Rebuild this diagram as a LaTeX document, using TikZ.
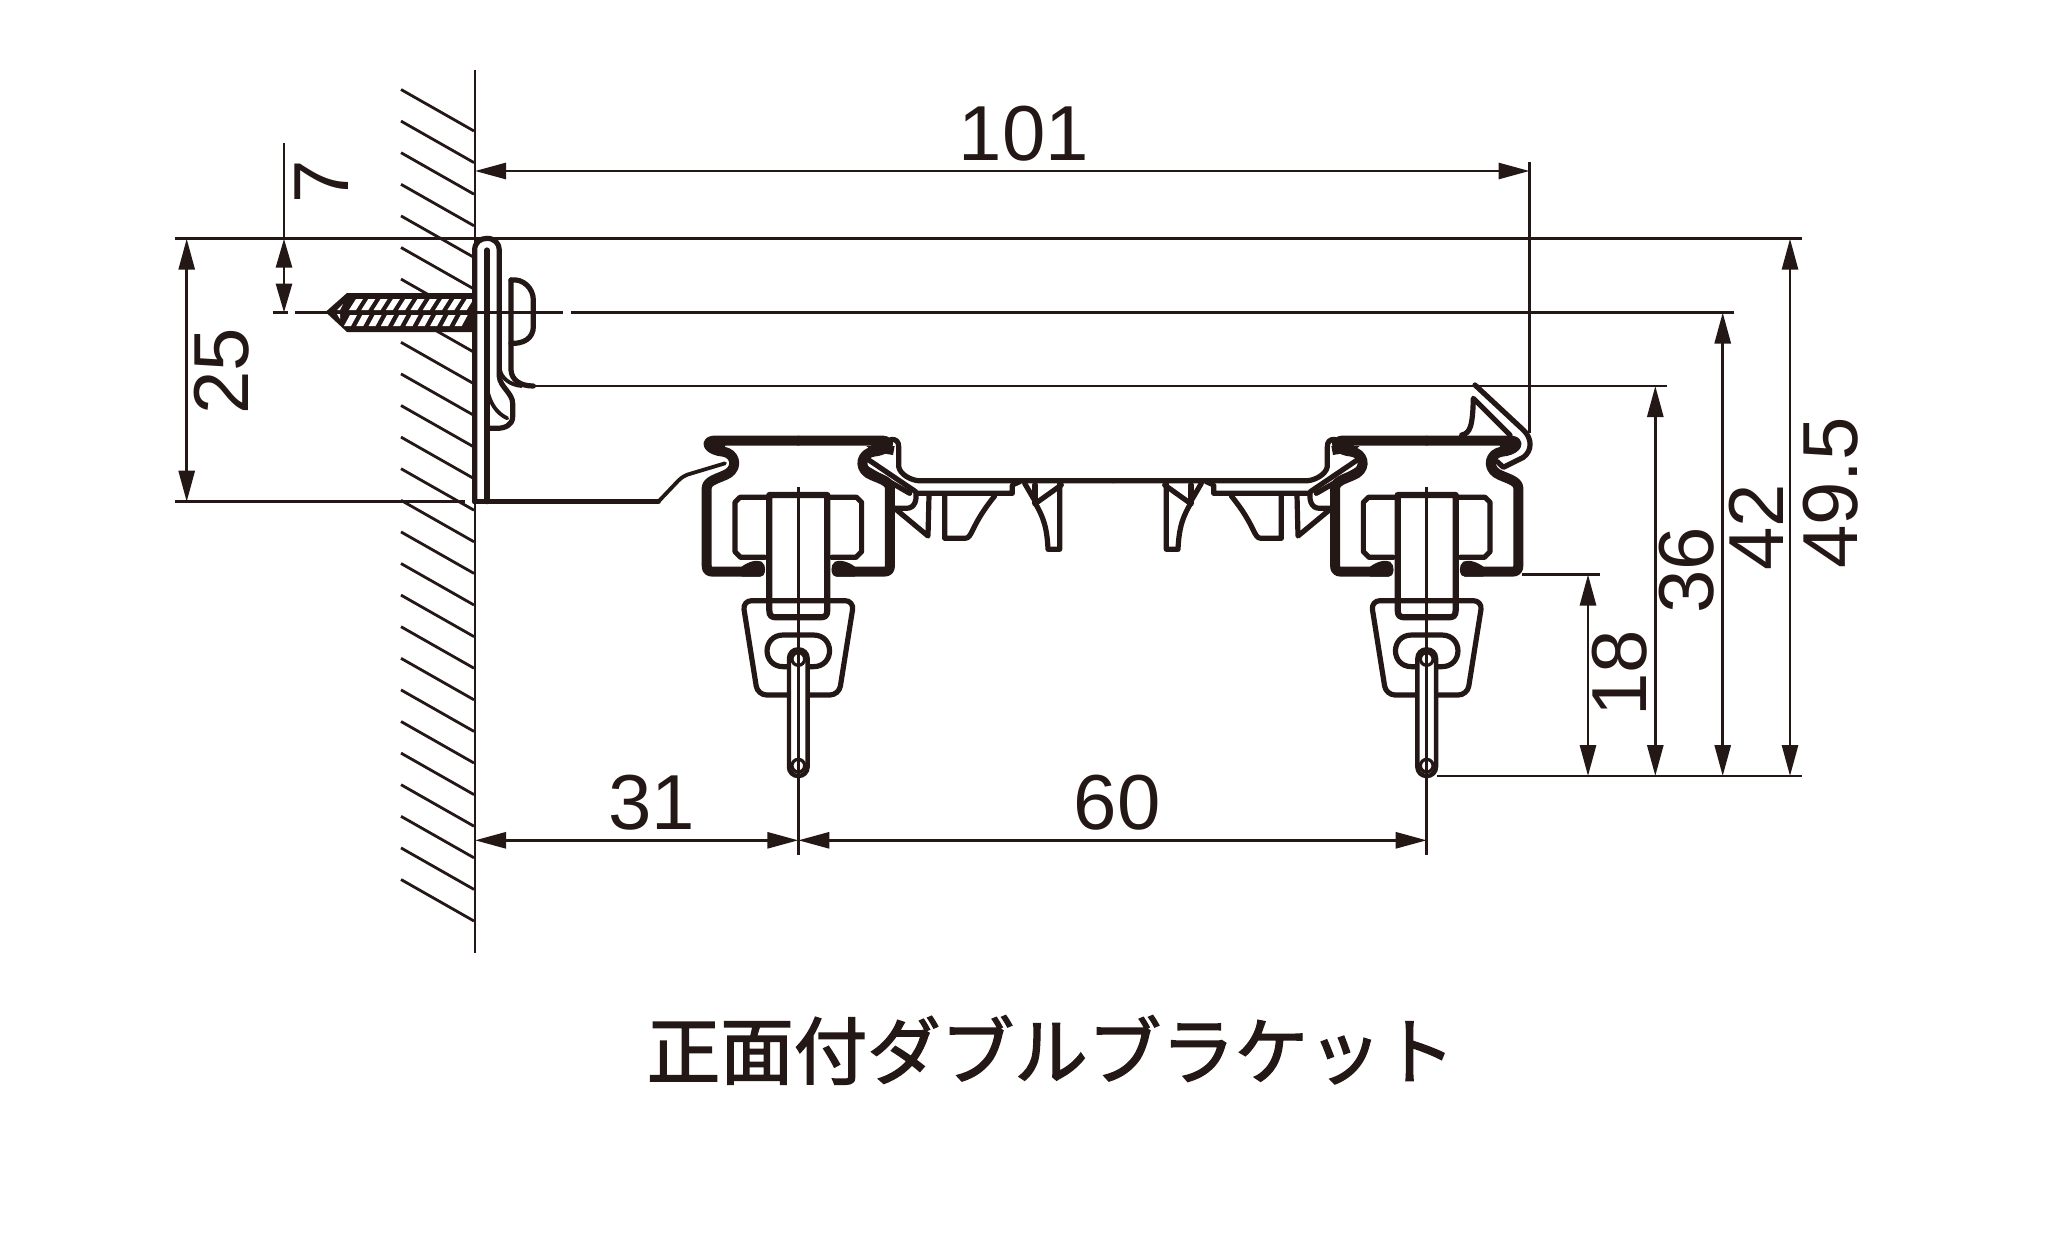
\documentclass[tikz,border=0pt]{standalone}
\usepackage{fontspec}
\setmainfont{Liberation Sans}
\newfontfamily\cjkfont[FakeBold=2]{Noto Sans CJK JP}
\usetikzlibrary{arrows.meta}
\definecolor{ink}{HTML}{231815}
\tikzset{
  thinline/.style={line width=2.8pt,draw=ink},
  dimline/.style={line width=2.8pt,draw=ink,{Triangle[length=31pt,width=16pt,fill=ink]}-{Triangle[length=31pt,width=16pt,fill=ink]}},
  endtip/.style={line width=2.8pt,draw=ink,-{Triangle[length=29pt,width=16pt,fill=ink]}},
  dimtext/.style={inner sep=0pt,text=ink,font=\fontsize{78}{78}\selectfont},
  railthick/.style={line width=10pt,draw=ink,line cap=round,line join=round},
  stemline/.style={line width=6.2pt,draw=ink,line cap=round,line join=round},
  partline/.style={line width=5.2pt,draw=ink,line cap=round,line join=round},
  fineline/.style={line width=3.8pt,draw=ink,line cap=round,line join=round},
}
\newcommand\trackhalf{%
  \draw[railthick] (0,62) -- (-255,62) .. controls (-285,66) and (-265,92) .. (-225,95)
     .. controls (-190,100) and (-180,140) .. (-210,160)
     .. controls (-235,175) and (-275,180) .. (-275,205)
     -- (-275,435) .. controls (-275,450) and (-270,455) .. (-255,455) -- (-115,455);
  \fill[ink] (-265,50) -- (-215,60) -- (-222,90) -- (-255,92) -- (-278,70) -- cycle;
  \fill[ink] (-170,440) .. controls (-150,425) and (-125,418) .. (-110,425)
     .. controls (-95,435) and (-95,465) .. (-115,470) -- (-170,470) -- cycle;
  \draw[partline] (-87,232) -- (-175,232) -- (-190,247) -- (-190,395) -- (-173,412) -- (-100,412);
  \draw[stemline] (0,225) -- (-87,225) -- (-87,570) .. controls (-87,588) and (-80,592) .. (-65,592) -- (0,592);
  \draw[partline,rounded corners=9pt] (0,542) -- (-167,542) -- (-122,825) -- (0,825);
  \draw[partline] (0,645) -- (-45,645) .. controls (-110,645) and (-110,740) .. (-45,740) -- (0,740);
}
\newcommand\hangerpin{%
  \filldraw[fill=white,draw=ink,line width=4.4pt,rounded corners=9pt] (-28,688) rectangle (28,1068);
  \draw[line width=3.2pt,draw=ink] (0,717) circle (19);
  \draw[line width=3.2pt,draw=ink] (0,1037) circle (19);
}
\newcommand\centrehalf{%
  \draw[partline] (0,152) -- (-585,152) .. controls (-605,150) and (-638,135) .. (-643,110)
     -- (-643,50) .. controls (-643,35) and (-650,28) .. (-665,28);
  \fill[ink] (-740,48) -- (-655,48) -- (-660,75) -- (-720,65) -- cycle;
  \draw[partline] (-590,190) -- (-302,190) -- (-302,165) -- (-280,155);
  \draw[partline] (-740,85) -- (-592,185) .. controls (-588,205) and (-592,235) .. (-620,235) -- (-655,235);
  \draw[partline] (-740,115) -- (-610,190);
  \draw[partline] (-655,235) -- (-555,318) -- (-552,195);
  \draw[partline] (-505,195) -- (-505,325) -- (-445,325) .. controls (-420,325) and (-430,290) .. (-355,198);
  \draw[partline] (-265,160) -- (-233,215);
  \draw[stemline] (-233,165) -- (-233,220);
  \draw[partline] (-225,215) -- (-155,165);
  \draw[partline] (-160,160) -- (-160,358) -- (-195,358) .. controls (-198,290) and (-210,260) .. (-233,220);
}
\begin{document}
\begin{tikzpicture}[x=1pt,y=-1pt]
\useasboundingbox (0,0) rectangle (2048,1243);
\fill[white] (0,0) rectangle (2048,1243);

% wall hatch
\foreach \k in {0,...,25}{
  \pgfmathsetmacro\ye{131+31.6*\k}
  \pgfmathsetmacro\ys{\ye-41.5}
  \draw[thinline] (401,\ys) -- (474,\ye);
}

% screw
\fill[ink] (325.5,312) -- (347,293) -- (474,293) -- (474,332) -- (347,332) -- cycle;
\foreach \i in {0,...,9}{
  \pgfmathsetmacro\xa{349+12.3*\i}
  \fill[white] (\xa,310) -- (\xa+7,310) -- (\xa+14,299) -- (\xa+7,299) -- cycle;
  \pgfmathsetmacro\xb{344+12.3*\i}
  \fill[white] (\xb,326) -- (\xb+7,326) -- (\xb+13,315) -- (\xb+6,315) -- cycle;
}
\fill[white] (337,310) -- (340,310) -- (343,304) -- cycle;
\fill[white] (337,314) -- (340,314) -- (340,319) -- cycle;

% named ends of the extension and dimension lines
\coordinate (wallT) at (475,70);
\coordinate (wallB) at (475,953);
\coordinate (topL) at (175,238.7);
\coordinate (topR) at (1802,238.7);
\coordinate (c42L) at (570.7,312.5);
\coordinate (c42R) at (1734,312.5);
\coordinate (c7A) at (272.7,312.5);
\coordinate (c7B) at (288,312.5);
\coordinate (c7C) at (295,312.5);
\coordinate (c7D) at (562.7,312.5);
\coordinate (l36L) at (530,386);
\coordinate (l36R) at (1667,386);
\coordinate (l18L) at (1522,574.5);
\coordinate (l18R) at (1600,574.5);
\coordinate (botL) at (1437,776);
\coordinate (botR) at (1802,776);
\coordinate (l25L) at (175,501.7);
\coordinate (l25R) at (465,501.7);

\draw[thinline] (wallT) -- (wallB);
\draw[thinline] (topL) -- (topR);
\draw[thinline] (c42L) -- (c42R);
\draw[thinline] (c7A) -- (c7B);
\draw[thinline] (c7C) -- (c7D);
\draw[thinline] (l36L) -- (l36R);
\draw[thinline] (l18L) -- (l18R);
\draw[thinline] (botL) -- (botR);
\draw[thinline] (l25L) -- (l25R);

% wall bracket
\begin{scope}[shift={(380,200)},scale=1/3]
  \draw[partline] (284,905) -- (284,150) .. controls (284,128) and (300,115) .. (321,115)
     .. controls (343,115) and (358,130) .. (358,150) -- (358,530)
     .. controls (360,560) and (398,580) .. (398,610) -- (398,650)
     .. controls (398,675) and (375,685) .. (350,685) -- (325,685);
  \draw[partline] (393,240) -- (393,510) .. controls (395,540) and (420,558) .. (460,558);
  \draw[fineline] (360,510) .. controls (365,535) and (390,555) .. (425,558);
  \draw[fineline] (322,570) .. controls (330,610) and (350,640) .. (382,655);
  \draw[partline] (321,150) -- (321,905);
  \draw[partline] (393,240) .. controls (430,235) and (460,265) .. (460,300) -- (460,380)
     .. controls (460,415) and (430,432) .. (393,430);
  \draw[partline] (284,905) -- (835,905);
  \draw[fineline] (835,905) -- (895,842) .. controls (905,832) and (915,825) .. (935,820) -- (1035,790);
\end{scope}

% left rail
\begin{scope}[shift={(798.3,420)},scale=1/3]
  \trackhalf
  \begin{scope}[xscale=-1]\trackhalf\end{scope}
  \hangerpin
  \coordinate (railA) at (0,200);
  \coordinate (railAb) at (0,1305);
  \draw[thinline] (railA) -- (railAb);
\end{scope}

% right rail
\begin{scope}[shift={(1426.7,420)},scale=1/3]
  \trackhalf
  \begin{scope}[xscale=-1]\trackhalf\end{scope}
  \hangerpin
  \coordinate (railB) at (0,200);
  \coordinate (railBb) at (0,1305);
  \draw[thinline] (railB) -- (railBb);
\end{scope}

% the middle plate with its clips
\begin{scope}[shift={(1113,430)},scale=1/3]
  \centrehalf
  \begin{scope}[xscale=-1]\centrehalf\end{scope}
\end{scope}

% spring hook on the right rail
\begin{scope}[shift={(1310,370)},scale=1/3]
  \draw[partline] (495,45) -- (640,180) .. controls (667,205) and (667,242) .. (640,262) -- (580,292) -- (562,275);
  \draw[partline] (455,195) .. controls (480,190) and (488,170) .. (490,85) -- (600,195);
\end{scope}

% dimensions
\coordinate (a101) at (475,171);
\coordinate (b101) at (1529.5,171);
\coordinate (e101a) at (1529.5,162);
\coordinate (e101b) at (1529.5,433);
\draw[thinline] (e101a) -- (e101b);
\draw[dimline] (a101) -- (b101);

\coordinate (a31) at (475,840.3);
\coordinate (b31) at (798.3,840.3);
\coordinate (b60) at (1426.7,840.3);
\draw[dimline] (a31) -- (b31);
\draw[dimline] (b31) -- (b60);

\coordinate (a25) at (186.7,238.7);
\coordinate (b25) at (186.7,501.7);
\draw[dimline] (a25) -- (b25);

\coordinate (ext7) at (284,143);
\coordinate (a7) at (284,238.7);
\coordinate (m7) at (284,273);
\coordinate (b7) at (284,312.5);
\draw[thinline] (ext7) -- (a7);
\draw[endtip] (m7) -- (a7);
\draw[endtip] (m7) -- (b7);

\coordinate (t18) at (1588,574.5);
\coordinate (b18) at (1588,776);
\coordinate (t36) at (1655.3,386);
\coordinate (b36) at (1655.3,776);
\coordinate (t42) at (1722.7,312.5);
\coordinate (b42) at (1722.7,776);
\coordinate (t49) at (1790,238.7);
\coordinate (b49) at (1790,776);
\draw[dimline] (t18) -- (b18);
\draw[dimline] (t36) -- (b36);
\draw[dimline] (t42) -- (b42);
\draw[dimline] (t49) -- (b49);

% labels
\node[dimtext] (n101) at (1024,134) {101};
\node[dimtext] (n31) at (652,803) {31};
\node[dimtext] (n60) at (1117,803) {60};
\node[dimtext,rotate=90] (n25) at (222,371) {25};
\node[dimtext,rotate=90] (n7) at (322,182) {7};
\node[dimtext,rotate=90] (n18) at (1620,673) {18};
\node[dimtext,rotate=90] (n36) at (1687,570) {36};
\node[dimtext,rotate=90] (n42) at (1756,527) {42};
\node[dimtext,rotate=90] (n49) at (1831,493) {49.5};
\node[inner sep=0pt,text=ink,font=\cjkfont\fontsize{73.5}{73.5}\selectfont] (title) at (1051,1050) {正面付ダブルブラケット};
\end{tikzpicture}
\end{document}
